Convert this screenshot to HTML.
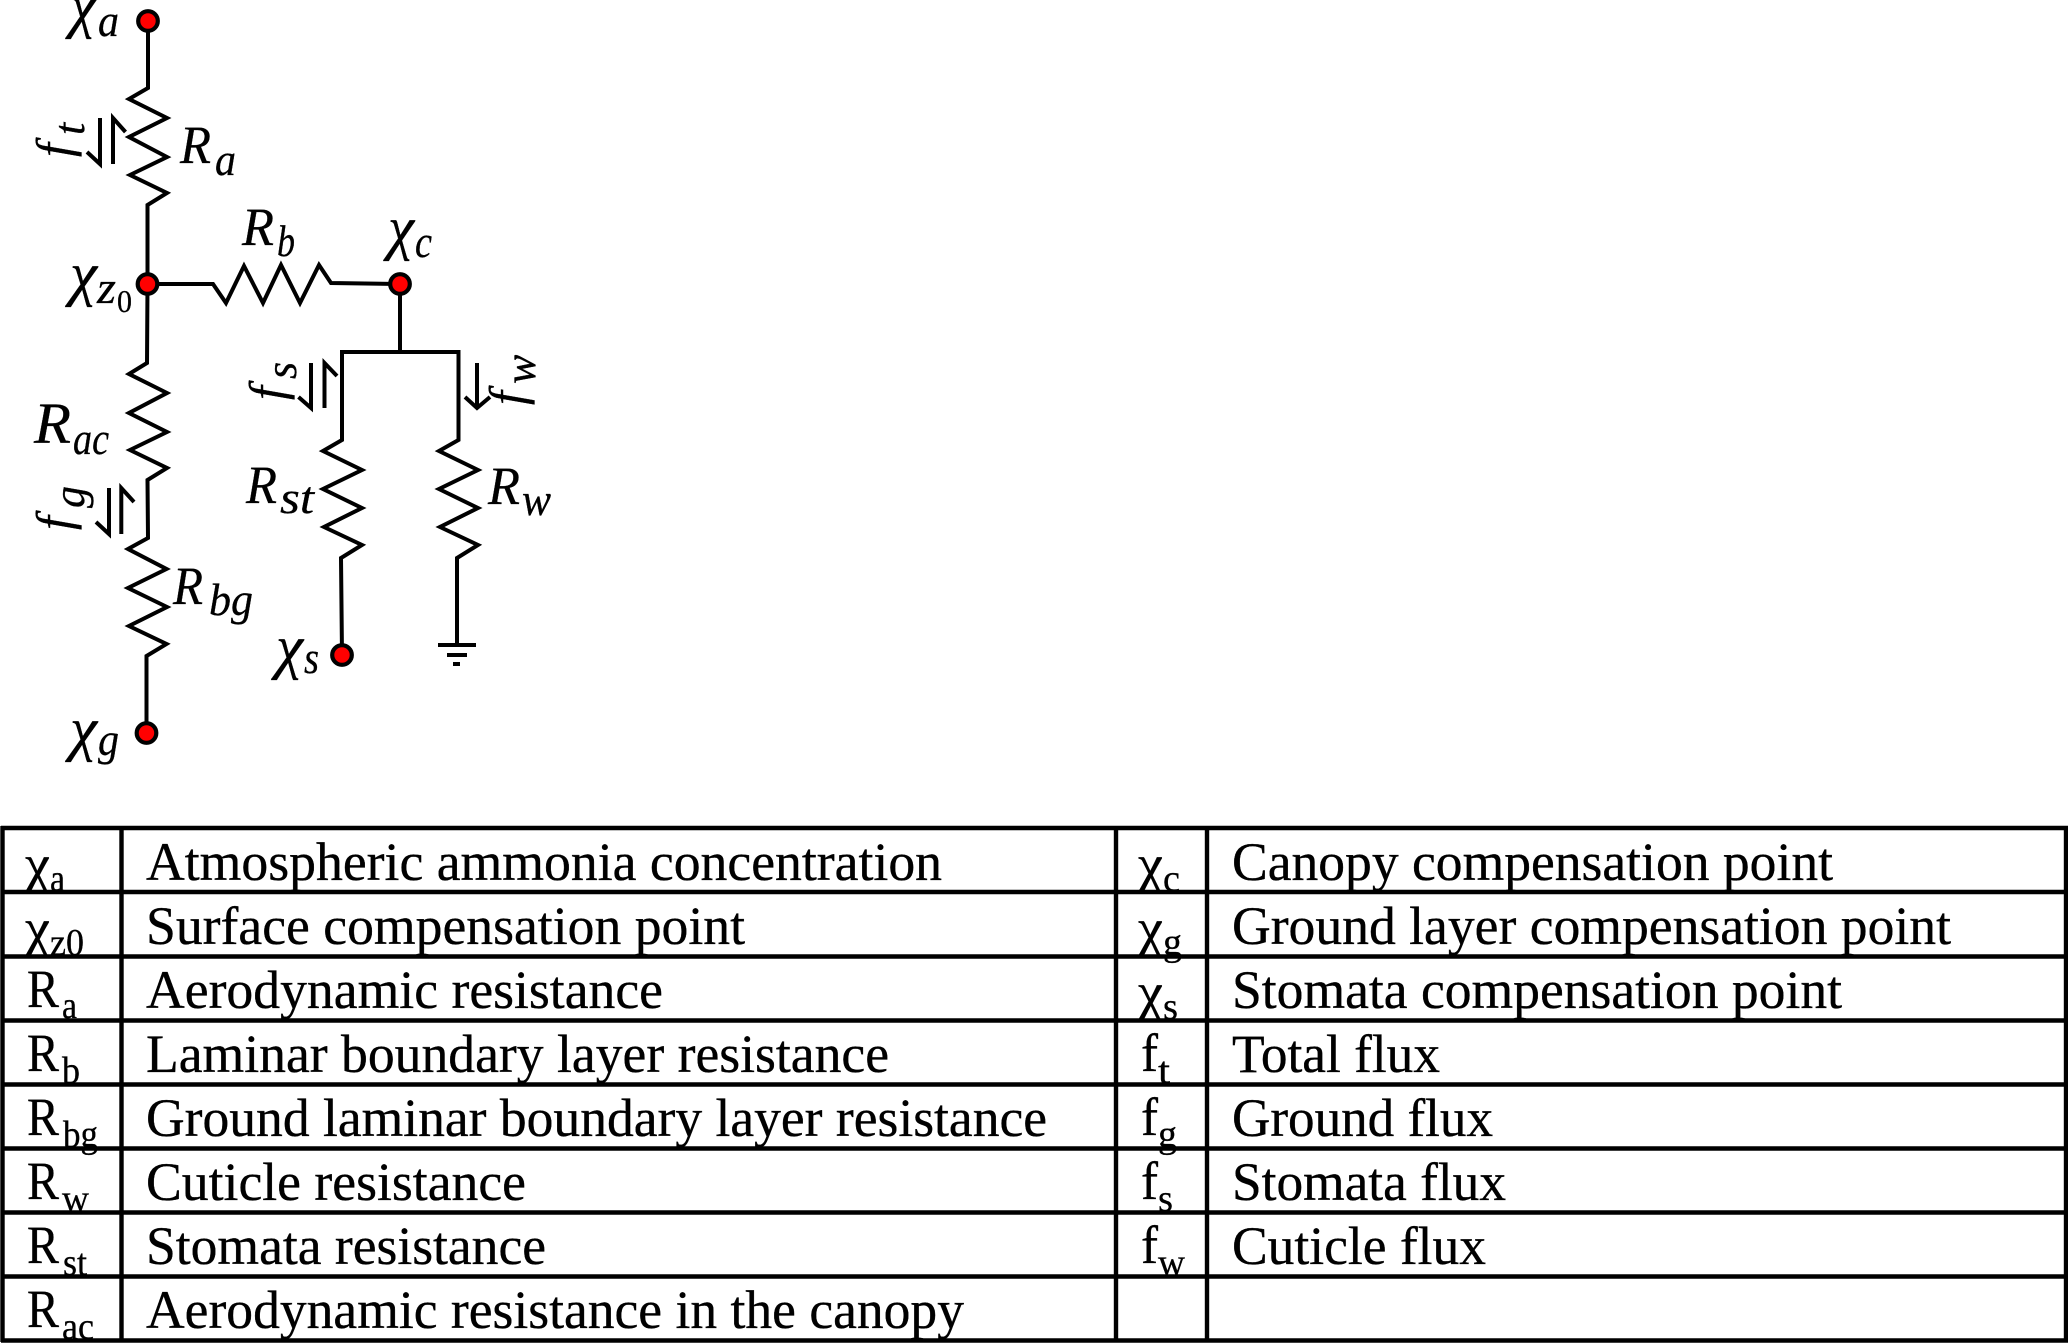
<!DOCTYPE html>
<html>
<head>
<meta charset="utf-8">
<style>
html,body{margin:0;padding:0;background:#fff;width:2068px;height:1344px;overflow:hidden}
svg{display:block}
.m{font-family:"Liberation Serif",serif;font-style:italic;fill:#000;stroke:#000;stroke-width:.3}
.t{font-family:"Liberation Serif",serif;font-size:54px;fill:#000;stroke:#000;stroke-width:.35}
.s{font-family:"Liberation Serif",serif;font-size:38px;fill:#000;stroke:#000;stroke-width:.3}
.w{fill:none;stroke:#000;stroke-width:4;stroke-linejoin:miter}
.n{fill:#f00;stroke:#000;stroke-width:4.2}
.g{stroke:#000;stroke-width:4.4}
</style>
</head>
<body>
<svg xmlns="http://www.w3.org/2000/svg" width="2068" height="1344" viewBox="0 0 2068 1344">
<rect width="2068" height="1344" fill="#fff"/>

<!-- circuit wires -->
<polyline class="w" points="148,21 148,88 129,99 167,118 129,137 167,157 130,175 167,193 147.500,205 147.500,284"/>
<polyline class="w" points="147.500,284 213,284 226,303 244,266 263,303 281,265 300,303 319,265 331,283 400,284"/>
<polyline class="w" points="147.500,284 147,363 129,374 167,393 129,413 167,432 130,450 167,468 147.500,480 148,538 128,549 166.500,569 128,588 167,607 129,626 166.500,644 146.500,656 146.500,733"/>
<polyline class="w" points="400,284 400,352"/>
<polyline class="w" points="342,408 342,352 458.500,352 458.500,408"/>
<polyline class="w" points="342,408 342,440 323,451 362,470 323,489 362,508 324,527 362,545 341,558 342,655"/>
<polyline class="w" points="458.500,408 458.500,440 439,451 478,470 439,489 478,508 440,527 478,545 457,558 457,645"/>
<!-- ground -->
<line class="w" x1="438" y1="645" x2="476" y2="645"/>
<line class="w" x1="447" y1="655" x2="467" y2="655"/>
<line class="w" x1="453" y1="664" x2="460" y2="664"/>

<!-- flux arrows -->
<polyline class="w" points="87,152 100,164 100,118"/>
<polyline class="w" points="113,164 113,118 125.500,132"/>
<polyline class="w" points="96,522 109,534 109,488"/>
<polyline class="w" points="121.300,534 121.300,488 134,502"/>
<polyline class="w" points="298.500,397 311,408 311,363"/>
<polyline class="w" points="324.500,408 324.500,363 337,376"/>
<polyline class="w" points="477,363 477,408"/>
<polyline class="w" points="465,397 477,408 490,397"/>

<!-- nodes -->
<circle class="n" cx="148" cy="21" r="9.800"/>
<circle class="n" cx="147.500" cy="284" r="9.800"/>
<circle class="n" cx="400" cy="284" r="9.800"/>
<circle class="n" cx="342" cy="655" r="9.800"/>
<circle class="n" cx="146.500" cy="733" r="9.800"/>

<!-- circuit labels -->
<g class="m">
<text x="70" y="26" font-size="60" textLength="26" lengthAdjust="spacingAndGlyphs">χ</text>
<text x="98" y="36" font-size="46" textLength="21" lengthAdjust="spacingAndGlyphs">a</text>

<text x="180" y="163" font-size="54" textLength="31" lengthAdjust="spacingAndGlyphs">R</text>
<text x="215" y="175" font-size="46" textLength="21" lengthAdjust="spacingAndGlyphs">a</text>

<text x="242" y="245" font-size="54" textLength="32" lengthAdjust="spacingAndGlyphs">R</text>
<text x="277" y="256" font-size="44" textLength="18" lengthAdjust="spacingAndGlyphs">b</text>

<text x="388" y="248" font-size="60" textLength="26" lengthAdjust="spacingAndGlyphs">χ</text>
<text x="415" y="257" font-size="46" textLength="17" lengthAdjust="spacingAndGlyphs">c</text>

<text x="70" y="294" font-size="60" textLength="27" lengthAdjust="spacingAndGlyphs">χ</text>
<text x="97" y="303" font-size="46" textLength="19" lengthAdjust="spacingAndGlyphs">z</text>
<text x="117" y="312" font-size="32" textLength="15" lengthAdjust="spacingAndGlyphs" style="font-style:normal">0</text>

<text x="34" y="443" font-size="58" textLength="37" lengthAdjust="spacingAndGlyphs">R</text>
<text x="73" y="454" font-size="46" textLength="36" lengthAdjust="spacingAndGlyphs">ac</text>

<text x="173" y="604" font-size="54" textLength="30" lengthAdjust="spacingAndGlyphs">R</text>
<text x="209" y="615" font-size="46" textLength="44" lengthAdjust="spacingAndGlyphs">bg</text>

<text x="246" y="503" font-size="54" textLength="31" lengthAdjust="spacingAndGlyphs">R</text>
<text x="280" y="513" font-size="46" textLength="34" lengthAdjust="spacingAndGlyphs">st</text>

<text x="488" y="504" font-size="54" textLength="32" lengthAdjust="spacingAndGlyphs">R</text>
<text x="522" y="515" font-size="46" textLength="29" lengthAdjust="spacingAndGlyphs">w</text>

<text x="276" y="667" font-size="60" textLength="27" lengthAdjust="spacingAndGlyphs">χ</text>
<text x="304" y="673" font-size="46" textLength="15" lengthAdjust="spacingAndGlyphs">s</text>

<text x="70" y="749" font-size="60" textLength="27" lengthAdjust="spacingAndGlyphs">χ</text>
<text x="98" y="755" font-size="46" textLength="21" lengthAdjust="spacingAndGlyphs">g</text>

<text transform="translate(71,157) rotate(-90)" font-size="50">f</text>
<text transform="translate(84,135) rotate(-90)" font-size="44">t</text>
<text transform="translate(71,530) rotate(-90)" font-size="50">f</text>
<text transform="translate(84,508) rotate(-90)" font-size="44">g</text>
<text transform="translate(284,400) rotate(-90)" font-size="50">f</text>
<text transform="translate(296,379) rotate(-90)" font-size="44">s</text>
<text transform="translate(524,405) rotate(-90)" font-size="50">f</text>
<text transform="translate(535,384) rotate(-90)" font-size="44">w</text>
</g>

<!-- table text left -->
<text class="t" x="146" y="880" textLength="796" lengthAdjust="spacingAndGlyphs">Atmospheric ammonia concentration</text>
<text class="t" x="146" y="944" textLength="599" lengthAdjust="spacingAndGlyphs">Surface compensation point</text>
<text class="t" x="146" y="1008" textLength="517" lengthAdjust="spacingAndGlyphs">Aerodynamic resistance</text>
<text class="t" x="146" y="1072" textLength="743" lengthAdjust="spacingAndGlyphs">Laminar boundary layer resistance</text>
<text class="t" x="146" y="1136" textLength="901" lengthAdjust="spacingAndGlyphs">Ground laminar boundary layer resistance</text>
<text class="t" x="146" y="1200" textLength="380" lengthAdjust="spacingAndGlyphs">Cuticle resistance</text>
<text class="t" x="146" y="1264" textLength="400" lengthAdjust="spacingAndGlyphs">Stomata resistance</text>
<text class="t" x="146" y="1328" textLength="818" lengthAdjust="spacingAndGlyphs">Aerodynamic resistance in the canopy</text>

<!-- table text right -->
<text class="t" x="1232" y="880" textLength="601" lengthAdjust="spacingAndGlyphs">Canopy compensation point</text>
<text class="t" x="1232" y="944" textLength="719" lengthAdjust="spacingAndGlyphs">Ground layer compensation point</text>
<text class="t" x="1232" y="1008" textLength="610" lengthAdjust="spacingAndGlyphs">Stomata compensation point</text>
<text class="t" x="1232" y="1072" textLength="208" lengthAdjust="spacingAndGlyphs">Total flux</text>
<text class="t" x="1232" y="1136" textLength="261" lengthAdjust="spacingAndGlyphs">Ground flux</text>
<text class="t" x="1232" y="1200" textLength="274" lengthAdjust="spacingAndGlyphs">Stomata flux</text>
<text class="t" x="1232" y="1264" textLength="254" lengthAdjust="spacingAndGlyphs">Cuticle flux</text>

<!-- symbols left -->
<text class="t" x="25" y="882" textLength="25" lengthAdjust="spacingAndGlyphs">χ</text><text class="s" x="50" y="891" textLength="15" lengthAdjust="spacingAndGlyphs">a</text>
<text class="t" x="25" y="946" textLength="25" lengthAdjust="spacingAndGlyphs">χ</text><text class="s" x="50" y="955" textLength="34" lengthAdjust="spacingAndGlyphs">z0</text>
<text class="t" x="27" y="1007" textLength="32" lengthAdjust="spacingAndGlyphs">R</text><text class="s" x="62" y="1018" textLength="15" lengthAdjust="spacingAndGlyphs">a</text>
<text class="t" x="27" y="1071" textLength="32" lengthAdjust="spacingAndGlyphs">R</text><text class="s" x="62" y="1083" textLength="18" lengthAdjust="spacingAndGlyphs">b</text>
<text class="t" x="27" y="1135" textLength="32" lengthAdjust="spacingAndGlyphs">R</text><text class="s" x="63" y="1147" textLength="35" lengthAdjust="spacingAndGlyphs">bg</text>
<text class="t" x="27" y="1199" textLength="32" lengthAdjust="spacingAndGlyphs">R</text><text class="s" x="62" y="1211" textLength="27" lengthAdjust="spacingAndGlyphs">w</text>
<text class="t" x="27" y="1263" textLength="32" lengthAdjust="spacingAndGlyphs">R</text><text class="s" x="63" y="1275" textLength="24" lengthAdjust="spacingAndGlyphs">st</text>
<text class="t" x="27" y="1327" textLength="32" lengthAdjust="spacingAndGlyphs">R</text><text class="s" x="62" y="1339" textLength="32" lengthAdjust="spacingAndGlyphs">ac</text>

<!-- symbols right -->
<text class="t" x="1138" y="882" textLength="25" lengthAdjust="spacingAndGlyphs">χ</text><text class="s" x="1163" y="891" textLength="17" lengthAdjust="spacingAndGlyphs">c</text>
<text class="t" x="1138" y="946" textLength="25" lengthAdjust="spacingAndGlyphs">χ</text><text class="s" x="1163" y="955" textLength="19" lengthAdjust="spacingAndGlyphs">g</text>
<text class="t" x="1138" y="1010" textLength="25" lengthAdjust="spacingAndGlyphs">χ</text><text class="s" x="1163" y="1019" textLength="15" lengthAdjust="spacingAndGlyphs">s</text>
<text class="t" x="1141" y="1071" textLength="17" lengthAdjust="spacingAndGlyphs">f</text><text class="s" x="1158" y="1083" textLength="12" lengthAdjust="spacingAndGlyphs">t</text>
<text class="t" x="1141" y="1135" textLength="17" lengthAdjust="spacingAndGlyphs">f</text><text class="s" x="1158" y="1147" textLength="19" lengthAdjust="spacingAndGlyphs">g</text>
<text class="t" x="1141" y="1199" textLength="17" lengthAdjust="spacingAndGlyphs">f</text><text class="s" x="1158" y="1211" textLength="15" lengthAdjust="spacingAndGlyphs">s</text>
<text class="t" x="1141" y="1263" textLength="17" lengthAdjust="spacingAndGlyphs">f</text><text class="s" x="1158" y="1275" textLength="27" lengthAdjust="spacingAndGlyphs">w</text>

<!-- table grid -->
<g class="g">
<line x1="1" y1="828" x2="2068" y2="828"/>
<line x1="1" y1="892" x2="2068" y2="892"/>
<line x1="1" y1="956.500" x2="2068" y2="956.500"/>
<line x1="1" y1="1020.500" x2="2068" y2="1020.500"/>
<line x1="1" y1="1084.500" x2="2068" y2="1084.500"/>
<line x1="1" y1="1148.500" x2="2068" y2="1148.500"/>
<line x1="1" y1="1212.500" x2="2068" y2="1212.500"/>
<line x1="1" y1="1276.500" x2="2068" y2="1276.500"/>
<line x1="1" y1="1340.500" x2="2068" y2="1340.500"/>
<line x1="2.500" y1="826" x2="2.500" y2="1342"/>
<line x1="121.500" y1="826" x2="121.500" y2="1342"/>
<line x1="1116" y1="826" x2="1116" y2="1342"/>
<line x1="1207" y1="826" x2="1207" y2="1342"/>
<line x1="2066" y1="826" x2="2066" y2="1342"/>
</g>
</svg>
</body>
</html>
